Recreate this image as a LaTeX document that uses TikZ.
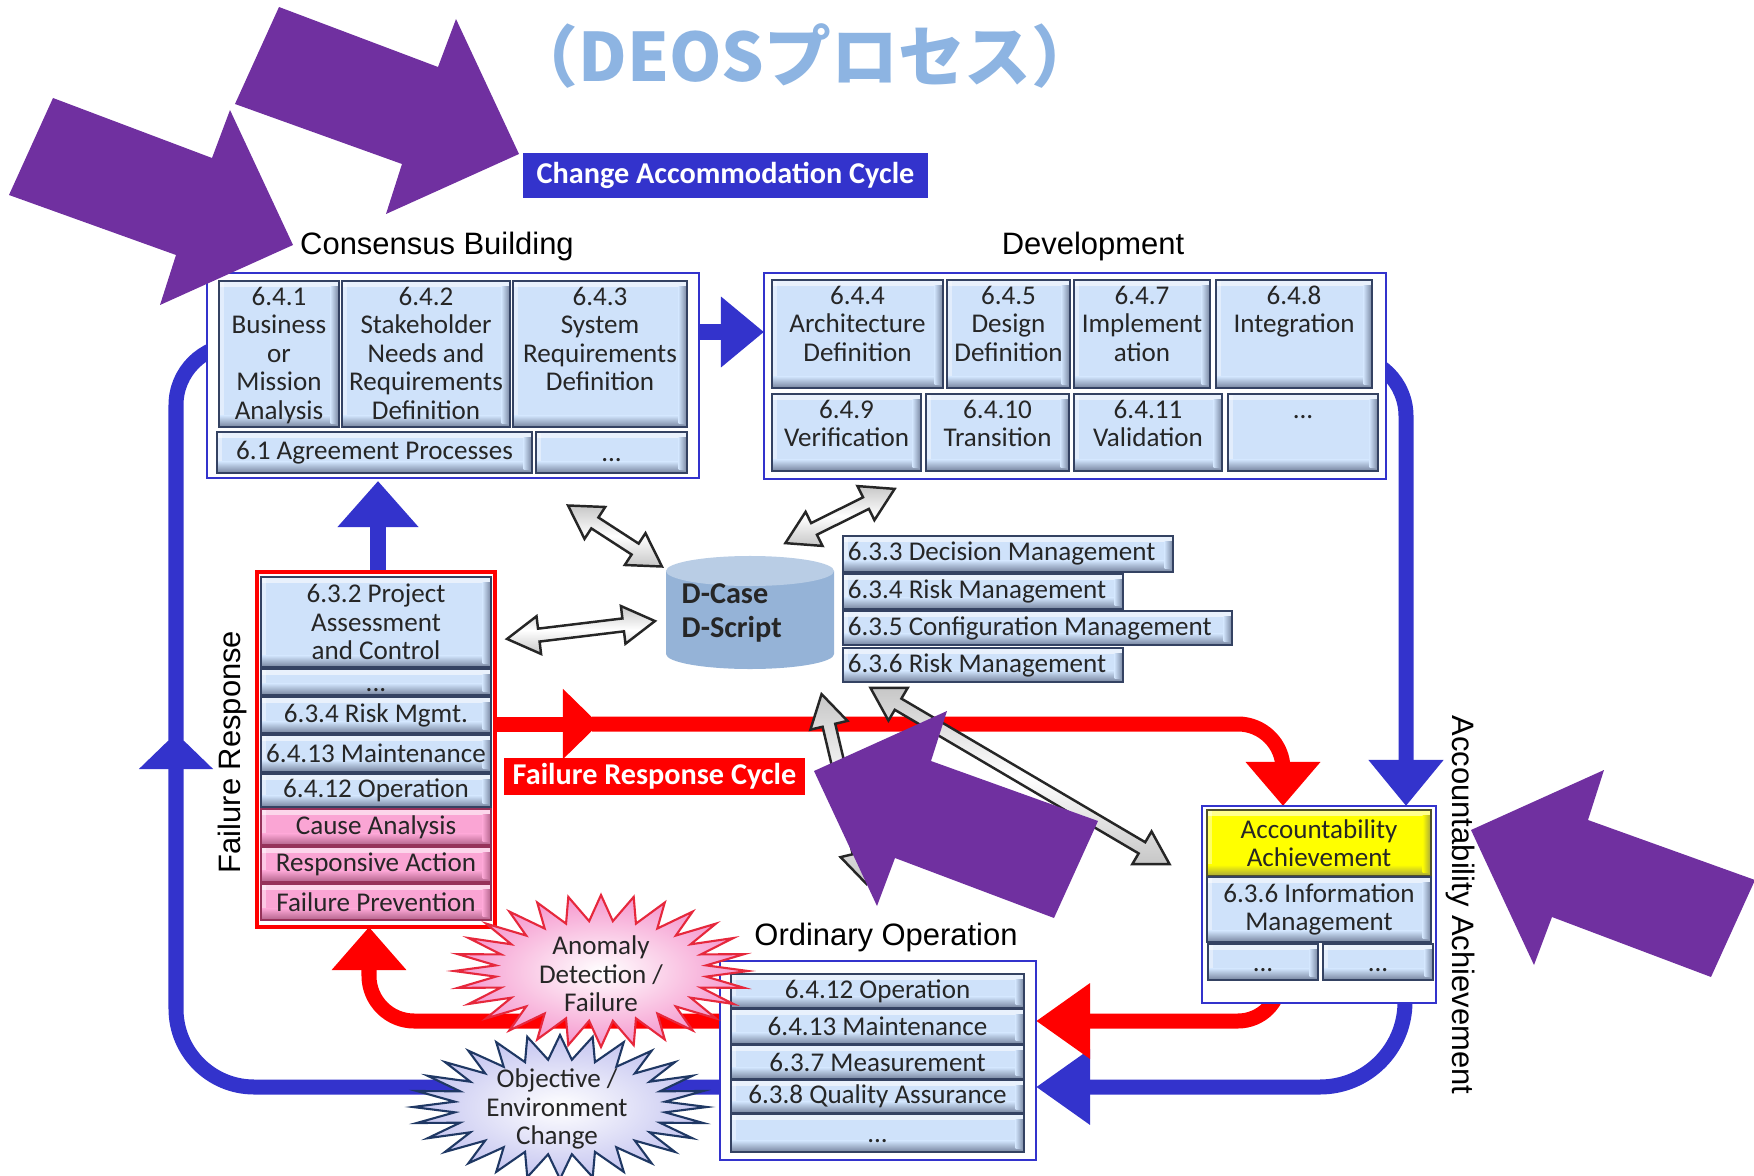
\documentclass[tikz,border=0pt]{standalone}
\usepackage{fontspec}
\setmainfont{Carlito}
\newfontfamily\labelfont{Liberation Sans}
\newfontfamily\cjkfont{Noto Sans CJK JP}
\usetikzlibrary{positioning,fit,arrows.meta}

\definecolor{loopblue}{RGB}{51,51,204}
\definecolor{loopred}{RGB}{255,0,0}
\definecolor{bigpurple}{RGB}{112,48,160}
\definecolor{titleblue}{RGB}{141,180,226}
\definecolor{boxblue}{RGB}{207,226,250}
\definecolor{boxedge}{RGB}{52,66,98}
\definecolor{boxdark}{RGB}{118,132,158}
\definecolor{boxpink}{RGB}{250,165,212}
\definecolor{pinkedge}{RGB}{150,50,90}
\definecolor{pinkdark}{RGB}{178,98,138}
\definecolor{boxyellow}{RGB}{255,255,0}
\definecolor{yellowedge}{RGB}{80,80,40}
\definecolor{yellowdark}{RGB}{165,165,60}
\definecolor{cylbody}{RGB}{149,179,215}
\definecolor{cyltop}{RGB}{185,205,229}
\definecolor{burstpink}{RGB}{245,150,205}
\definecolor{burstred}{RGB}{230,40,60}
\definecolor{burstlav}{RGB}{196,196,240}
\definecolor{burstnavy}{RGB}{31,56,100}

\newcommand{\boxfont}{\fontsize{7.7}{8.1}\selectfont}
\newcommand{\dotsrow}{\vphantom{6}...}

\tikzset{
  bevel/.style n args={3}{fill=#1, draw=#2, line width=0.5pt, inner sep=0pt,
    path picture={
      \fill[white, opacity=0.55] (path picture bounding box.north west) rectangle ([yshift=-1.6pt]path picture bounding box.north east);
      \fill[white, opacity=0.4] (path picture bounding box.north west) rectangle ([xshift=1.4pt]path picture bounding box.south west);
      \shade[top color=#1, bottom color=#3] ([yshift=3.2pt]path picture bounding box.south west) rectangle (path picture bounding box.south east);
      \shade[left color=#1, right color=#3] ([xshift=-2.4pt,yshift=-1.6pt]path picture bounding box.north east) rectangle ([yshift=1pt]path picture bounding box.south east);
    }},
  pbox/.style={bevel={boxblue}{boxedge}{boxdark}},
  pinkbox/.style={bevel={boxpink}{pinkedge}{pinkdark}},
  ybox/.style={bevel={boxyellow}{yellowedge}{yellowdark}},
  boxtext/.style={font=\boxfont, align=center, inner sep=0pt, text=black!85},
  outerbox/.style={fill=white, draw=loopblue, line width=0.7pt, inner sep=0pt},
  labeltext/.style={font=\labelfont\fontsize{8.8}{10}\selectfont, inner sep=0pt},
  cyclebox/.style={font=\bfseries\fontsize{8.6}{10}\selectfont, text=white, inner sep=0pt},
  blueloop/.style={draw=loopblue, line width=0.15cm},
  redloop/.style={draw=loopred, line width=0.15cm},
  anomalyburst/.style={draw=burstred, line width=0.6pt, inner color=white, outer color=burstpink},
  objectburst/.style={draw=burstnavy, line width=0.6pt, inner color=white, outer color=burstlav},
  pics/bigarrow/.style={code={
    \fill[bigpurple] (0,0) -- (133,-60) -- (117,-10) -- (284,50) -- (240,147) -- (81,87) -- (63,135) -- cycle;
  }},
  pics/dblarrow/.style={code={
    \draw[draw=black!85, line width=0.7pt, top color=black!22, bottom color=black!22, middle color=white]
      ({-#1/2},0) -- ({-#1/2+32},19) -- ({-#1/2+32},6.5) -- ({#1/2-32},6.5) -- ({#1/2-32},19) -- ({#1/2},0)
      -- ({#1/2-32},-19) -- ({#1/2-32},-6.5) -- ({-#1/2+32},-6.5) -- ({-#1/2+32},-19) -- cycle;
  }}
}

\begin{document}
\begin{tikzpicture}[x=0.01cm, y=-0.01cm]
\useasboundingbox (0,0) rectangle (1754,1176);

% Change accommodation cycle (blue)
\draw[blueloop, -{Triangle[width=0.68cm,length=0.43cm]}] (690,332) -- (764,332);
\draw[blueloop, rounded corners=0.6cm, -{Triangle[width=0.72cm,length=0.46cm]}] (1350,356) -- (1406,356) -- (1406,806);
\draw[blueloop, rounded corners=0.85cm, -{Triangle[width=0.72cm,length=0.54cm]}] (1405,990) -- (1405,1087) -- (1036,1087);
\draw[blueloop, rounded corners=0.78cm, -{Triangle[width=0.72cm,length=0.36cm]}] (730,1087) -- (176,1087) -- (176,733);
\draw[blueloop, rounded corners=0.6cm] (176,740) -- (176,345) -- (240,345);
\draw[blueloop, -{Triangle[width=0.78cm,length=0.46cm]}] (378,580) -- (378,481);

% Failure response cycle (red)
\draw[redloop, -{Triangle[width=0.68cm,length=0.36cm]}] (493,724) -- (599,724);
\draw[redloop, rounded corners=0.45cm, -{Triangle[width=0.72cm,length=0.44cm]}] (592,724) -- (1283,724) -- (1283,806);
\draw[redloop, rounded corners=0.42cm, -{Triangle[width=0.72cm,length=0.54cm]}] (1280,990) -- (1280,1021) -- (1036,1021);
\draw[redloop, rounded corners=0.45cm, -{Triangle[width=0.72cm,length=0.43cm]}] (740,1021) -- (369,1021) -- (369,927);

% Outer frames
\node[outerbox, fit={(207,273) (699,478)}] (consensus) {};
\node[outerbox, fit={(764,273) (1386,479)}] (development) {};
\node[outerbox, draw=loopred, line width=1.2pt, fit={(257,572) (495,927)}] (failresp) {};
\node[outerbox, fit={(1202,806) (1436,1003)}] (account) {};
\node[outerbox, fit={(720,961) (1036,1160)}] (ordinary) {};

% Consensus building
\node[pbox, fit={(219,281) (339,427)}] (b641) {};
\node[boxtext, below=0.06cm of b641.north] (t641) {6.4.1\\Business\\or\\Mission\\Analysis};
\node[pbox, fit={(342,281) (510,427)}] (b642) {};
\node[boxtext, below=0.06cm of b642.north] (t642) {6.4.2\\Stakeholder\\Needs and\\Requirements\\Definition};
\node[pbox, fit={(513,281) (687,427)}] (b643) {};
\node[boxtext, below=0.06cm of b643.north] (t643) {6.4.3\\System\\Requirements\\Definition};
\node[pbox, fit={(217,432) (532,473)}] (b61) {};
\node[boxtext] (t61) at (b61.center) {6.1 Agreement Processes};
\node[pbox, fit={(536,432) (687,473)}] (bdotsa) {};
\node[boxtext] (tdotsa) at (bdotsa.center) {\dotsrow};

% Development
\node[pbox, fit={(772,280) (943,388)}] (b644) {};
\node[boxtext, below=0.06cm of b644.north] (t644) {6.4.4\\Architecture\\Definition};
\node[pbox, fit={(947,280) (1070,388)}] (b645) {};
\node[boxtext, below=0.06cm of b645.north] (t645) {6.4.5\\Design\\Definition};
\node[pbox, fit={(1074,280) (1210,388)}] (b647) {};
\node[boxtext, below=0.06cm of b647.north] (t647) {6.4.7\\Implement\\ation};
\node[pbox, fit={(1216,280) (1372,388)}] (b648) {};
\node[boxtext, below=0.06cm of b648.north] (t648) {6.4.8\\Integration};
\node[pbox, fit={(772,394) (921,471)}] (b649) {};
\node[boxtext, below=0.06cm of b649.north] (t649) {6.4.9\\Verification};
\node[pbox, fit={(926,394) (1069,471)}] (b6410) {};
\node[boxtext, below=0.06cm of b6410.north] (t6410) {6.4.10\\Transition};
\node[pbox, fit={(1074,394) (1222,471)}] (b6411) {};
\node[boxtext, below=0.06cm of b6411.north] (t6411) {6.4.11\\Validation};
\node[pbox, fit={(1228,394) (1378,471)}] (bdotsb) {};
\node[boxtext, below=0.06cm of bdotsb.north] (tdotsb) {\dotsrow};

% Failure response
\node[pbox, fit={(261,577) (491,667)}] (b632) {};
\node[boxtext] (t632) at (b632.center) {6.3.2 Project\\Assessment\\and Control};
\node[pbox, fit={(261,669) (491,695)}] (bdotsc) {};
\node[boxtext] (tdotsc) at (bdotsc.center) {\dotsrow};
\node[pbox, fit={(261,697) (491,733)}] (b634f) {};
\node[boxtext] (t634f) at (b634f.center) {6.3.4 Risk Mgmt.};
\node[pbox, fit={(261,735) (491,772)}] (b6413f) {};
\node[boxtext] (t6413f) at (b6413f.center) {6.4.13 Maintenance};
\node[pbox, fit={(261,774) (491,807)}] (b6412f) {};
\node[boxtext] (t6412f) at (b6412f.center) {6.4.12 Operation};
\node[pinkbox, fit={(261,809) (491,845)}] (bcause) {};
\node[boxtext] (tcause) at (bcause.center) {Cause Analysis};
\node[pinkbox, fit={(261,847) (491,882)}] (bresp) {};
\node[boxtext] (tresp) at (bresp.center) {Responsive Action};
\node[pinkbox, fit={(261,884) (491,920)}] (bprev) {};
\node[boxtext] (tprev) at (bprev.center) {Failure Prevention};

% Management processes beside D-Case
\node[pbox, fit={(843,536) (1173,572)}] (b633) {};
\node[boxtext, right=0.05cm of b633.west] (t633) {6.3.3 Decision Management};
\node[pbox, fit={(843,574) (1123,609)}] (b634) {};
\node[boxtext, right=0.05cm of b634.west] (t634) {6.3.4 Risk Management};
\node[pbox, fit={(843,611) (1232,645)}] (b635) {};
\node[boxtext, right=0.05cm of b635.west] (t635) {6.3.5 Configuration Management};
\node[pbox, fit={(843,648) (1123,682)}] (b636) {};
\node[boxtext, right=0.05cm of b636.west] (t636) {6.3.6 Risk Management};

% Accountability achievement
\node[ybox, fit={(1207,810) (1431,876)}] (byellow) {};
\node[boxtext] (tyellow) at (byellow.center) {Accountability\\Achievement};
\node[pbox, fit={(1207,877) (1431,942)}] (b636i) {};
\node[boxtext] (t636i) at (b636i.center) {6.3.6 Information\\Management};
\node[pbox, fit={(1208,944) (1318,980)}] (bdotsd) {};
\node[boxtext] (tdotsd) at (bdotsd.center) {\dotsrow};
\node[pbox, fit={(1323,944) (1433,980)}] (bdotse) {};
\node[boxtext] (tdotse) at (bdotse.center) {\dotsrow};

% Ordinary operation
\node[pbox, fit={(731,974) (1024,1008)}] (b6412) {};
\node[boxtext] (t6412) at (b6412.center) {6.4.12 Operation};
\node[pbox, fit={(731,1009) (1024,1044)}] (b6413) {};
\node[boxtext] (t6413) at (b6413.center) {6.4.13 Maintenance};
\node[pbox, fit={(731,1045) (1024,1079)}] (b637) {};
\node[boxtext] (t637) at (b637.center) {6.3.7 Measurement};
\node[pbox, fit={(731,1080) (1024,1113)}] (b638) {};
\node[boxtext] (t638) at (b638.center) {6.3.8 Quality Assurance};
\node[pbox, fit={(731,1114) (1024,1152)}] (bdotsf) {};
\node[boxtext] (tdotsf) at (bdotsf.center) {\dotsrow};

% D-Case / D-Script store
\fill[cylbody] (666,571) -- (666,654) arc[start angle=180, end angle=360, x radius=0.84cm, y radius=0.15cm] -- (834,571) -- cycle;
\fill[cyltop] (750,571) ellipse [x radius=0.84cm, y radius=0.15cm];
\node[font=\bfseries\fontsize{8.6}{9.7}\selectfont, align=left, inner sep=0pt, text=black!85, anchor=west] (dcase) at (681,613) {D-Case\\D-Script};

% Starbursts
\filldraw[anomalyburst] (748,971) \foreach \k in {1,...,55} { -- ({601+ifthenelse(isodd(\k),0.72,1)*147*cos(\k*6.4285714)},{971+ifthenelse(isodd(\k),0.66,1)*76*sin(\k*6.4285714)}) } -- cycle;
\node[boxtext] (anomaly) at (601,974) {Anomaly\\Detection /\\Failure};
\filldraw[objectburst] (707,1107) \foreach \k in {1,...,55} { -- ({560+ifthenelse(isodd(\k),0.72,1)*147*cos(\k*6.4285714)},{1107+ifthenelse(isodd(\k),0.66,1)*72*sin(\k*6.4285714)}) } -- cycle;
\node[boxtext] (objective) at (557,1109) {Objective /\\Environment\\Change};

% Links to D-Case
\pic[rotate=-33] at (615,536) {dblarrow=112};
\pic[rotate=26.4] at (840,516) {dblarrow=122};
\pic[rotate=6.9] at (581,630) {dblarrow=149};
\pic[rotate=-76.7] at (844,789) {dblarrow=195};
\pic[rotate=-30.5] at (1020,776) {dblarrow=347};

% Cycle names
\node[cyclebox, fill=loopblue, minimum width=4.05cm, minimum height=0.45cm] (cac) at (725.5,175.5) {Change Accommodation Cycle};
\node[cyclebox, fill=loopred, minimum width=3.01cm, minimum height=0.37cm] (frc) at (654.5,776.5) {Failure Response Cycle};

% Phase labels
\node[labeltext] (lblcons) at (437,246) {Consensus Building};
\node[labeltext] (lbldev) at (1093,246) {Development};
\node[labeltext] (lblord) at (886,937) {Ordinary Operation};
\node[labeltext, rotate=90] (lblfail) at (232,752) {Failure Response};
\node[labeltext, rotate=-90] (lblacc) at (1460,905) {Accountability Achievement};

% Pointer arrows
\pic[rotate=180] at (519,154) {bigarrow};
\pic[rotate=180] at (293,245) {bigarrow};
\pic at (814,771) {bigarrow};
\pic at (1471,830) {bigarrow};

% Title
\node[font=\cjkfont\bfseries\fontsize{19}{22}\selectfont, text=titleblue, inner sep=0pt] (title) at (805,56) {（DEOSプロセス）};
\end{tikzpicture}
\end{document}
